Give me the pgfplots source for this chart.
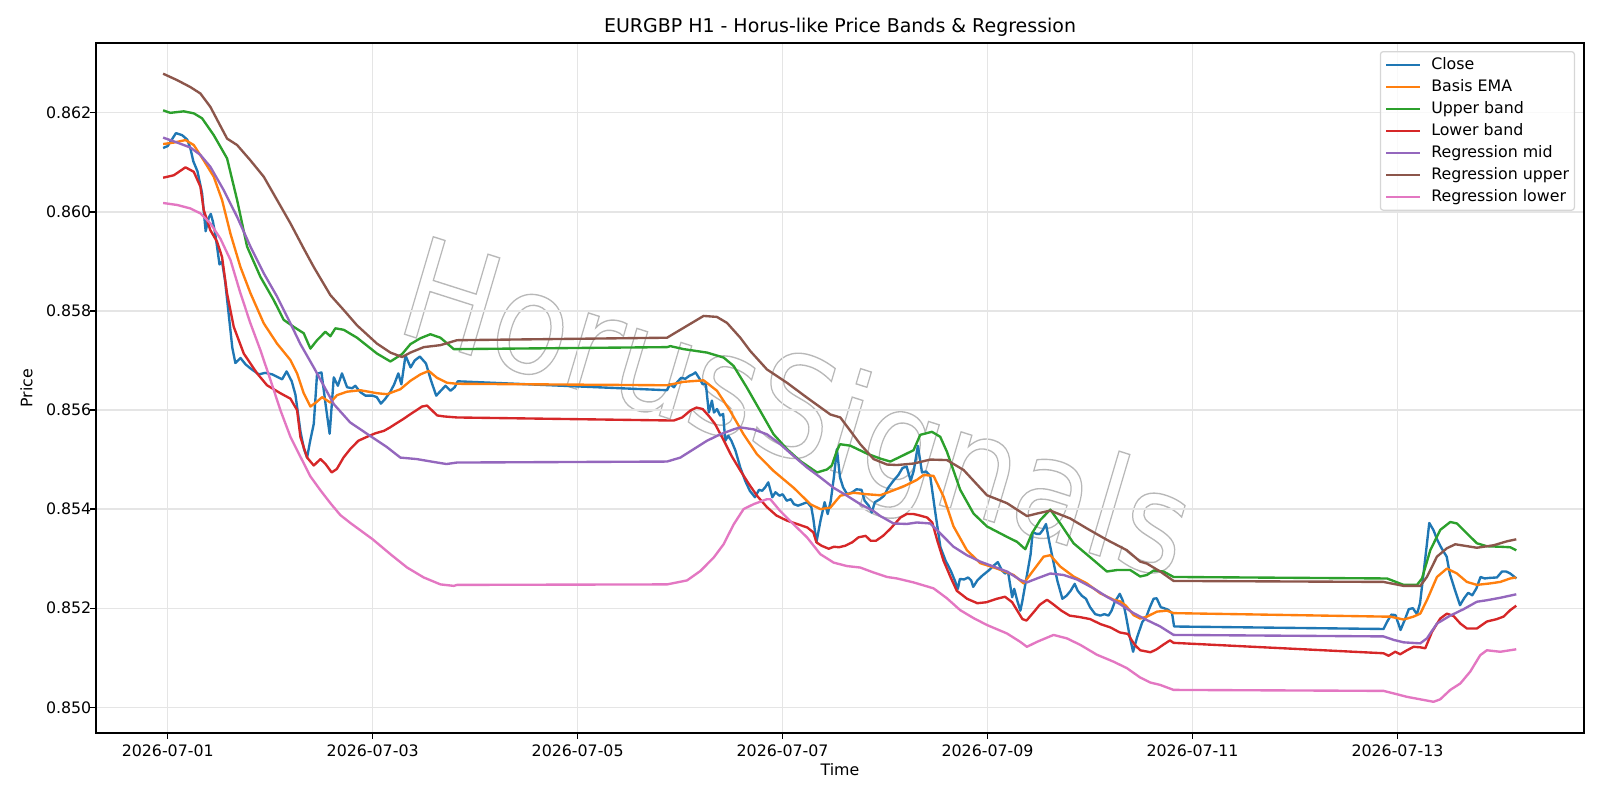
\documentclass[border=0pt]{standalone}
\usepackage{fontspec}
\setmainfont{DejaVu Sans}
\newfontfamily\wmfont{DejaVu Sans}
\usepackage{pgfplots}
\pgfplotsset{compat=1.18}

\definecolor{c0}{HTML}{1F77B4}
\definecolor{c1}{HTML}{FF7F0E}
\definecolor{c2}{HTML}{2CA02C}
\definecolor{c3}{HTML}{D62728}
\definecolor{c4}{HTML}{9467BD}
\definecolor{c5}{HTML}{8C564B}
\definecolor{c6}{HTML}{E377C2}
\definecolor{gridc}{HTML}{E5E5E5}
\definecolor{legframe}{HTML}{D6D6D6}

% x values: days after 2026-07-01 00:00 (hourly bars, weekend gaps)
\pgfplotstableread[row sep=\\]{
x y\\
-0.045 0.86129\\ 0.0 0.86133\\ 0.08 0.86159\\ 0.14 0.86155\\ 0.19 0.86146\\ 0.22 0.86129\\
0.25 0.86102\\ 0.29 0.86082\\ 0.335 0.86038\\ 0.37 0.85961\\ 0.40 0.85988\\ 0.42 0.85996\\
0.44 0.85981\\ 0.465 0.85954\\ 0.505 0.85894\\ 0.53 0.85900\\ 0.56 0.85860\\ 0.595 0.85793\\
0.63 0.85726\\ 0.66 0.85695\\ 0.71 0.85705\\ 0.76 0.85692\\ 0.82 0.85682\\ 0.89 0.85672\\
0.95 0.85675\\ 1.02 0.85672\\ 1.116 0.85662\\ 1.16 0.85678\\ 1.21 0.85658\\ 1.246 0.85631\\
1.295 0.85557\\ 1.33 0.85521\\ 1.36 0.85504\\ 1.39 0.85538\\ 1.425 0.85572\\ 1.457 0.85673\\
1.50 0.85676\\ 1.54 0.85612\\ 1.58 0.85552\\ 1.62 0.85666\\ 1.66 0.85649\\ 1.70 0.85674\\
1.75 0.85646\\ 1.80 0.85644\\ 1.83 0.85649\\ 1.88 0.85636\\ 1.93 0.85629\\ 2.0 0.85629\\
2.04 0.85626\\ 2.08 0.85613\\ 2.12 0.85622\\ 2.17 0.85636\\ 2.21 0.85652\\ 2.25 0.85674\\
2.28 0.85652\\ 2.32 0.85710\\ 2.37 0.85686\\ 2.41 0.85700\\ 2.46 0.85708\\ 2.52 0.85694\\
2.57 0.85659\\ 2.62 0.85629\\ 2.66 0.85638\\ 2.71 0.85649\\ 2.76 0.85639\\ 2.80 0.85646\\
2.83 0.85658\\
4.872 0.85640\\ 4.90 0.85652\\ 4.94 0.85646\\ 4.97 0.85656\\ 5.01 0.85665\\ 5.05 0.85663\\
5.09 0.85669\\ 5.13 0.85673\\ 5.15 0.85676\\ 5.19 0.85663\\ 5.22 0.85652\\ 5.25 0.85654\\
5.28 0.85595\\ 5.31 0.85619\\ 5.33 0.85595\\ 5.36 0.85602\\ 5.39 0.85589\\ 5.42 0.85592\\
5.44 0.85538\\ 5.47 0.85548\\ 5.50 0.85538\\ 5.54 0.85518\\ 5.587 0.85484\\ 5.635 0.85457\\
5.68 0.85437\\ 5.73 0.85424\\ 5.77 0.85439\\ 5.80 0.85437\\ 5.83 0.85444\\ 5.86 0.85454\\
5.90 0.85424\\ 5.93 0.85434\\ 5.97 0.85427\\ 6.0 0.85430\\ 6.04 0.85417\\ 6.08 0.85420\\
6.11 0.85410\\ 6.15 0.85407\\ 6.19 0.85410\\ 6.24 0.85414\\ 6.28 0.85404\\ 6.30 0.85380\\
6.33 0.85333\\ 6.37 0.85377\\ 6.41 0.85414\\ 6.44 0.85390\\ 6.47 0.85417\\ 6.50 0.85464\\
6.53 0.85521\\ 6.56 0.85464\\ 6.59 0.85444\\ 6.63 0.85430\\ 6.68 0.85434\\ 6.72 0.85440\\
6.77 0.85439\\ 6.80 0.85417\\ 6.84 0.85407\\ 6.87 0.85393\\ 6.90 0.85414\\ 6.95 0.85420\\
6.99 0.85427\\ 7.03 0.85443\\ 7.08 0.85457\\ 7.13 0.85469\\ 7.17 0.85483\\ 7.21 0.85486\\
7.25 0.85457\\ 7.28 0.85478\\ 7.32 0.85528\\ 7.36 0.85474\\ 7.40 0.85476\\ 7.44 0.85467\\
7.49 0.85393\\ 7.54 0.85323\\ 7.59 0.85296\\ 7.64 0.85276\\ 7.68 0.85256\\ 7.71 0.85239\\
7.73 0.85259\\ 7.77 0.85258\\ 7.81 0.85262\\ 7.84 0.85256\\ 7.86 0.85243\\ 7.90 0.85256\\
7.95 0.85266\\ 8.01 0.85276\\ 8.06 0.85286\\ 8.10 0.85293\\ 8.14 0.85276\\ 8.17 0.85270\\
8.20 0.85273\\ 8.24 0.85222\\ 8.26 0.85239\\ 8.29 0.85215\\ 8.32 0.85195\\ 8.34 0.85215\\
8.38 0.85262\\ 8.42 0.85309\\ 8.44 0.85353\\ 8.48 0.85350\\ 8.51 0.85350\\ 8.54 0.85358\\
8.57 0.85370\\ 8.60 0.85336\\ 8.64 0.85296\\ 8.68 0.85256\\ 8.73 0.85219\\ 8.77 0.85225\\
8.81 0.85235\\ 8.85 0.85249\\ 8.88 0.85235\\ 8.92 0.85225\\ 8.96 0.85219\\ 9.0 0.85202\\
9.05 0.85188\\ 9.10 0.85185\\ 9.14 0.85188\\ 9.18 0.85185\\ 9.21 0.85195\\ 9.24 0.85212\\
9.29 0.85229\\ 9.32 0.85215\\ 9.35 0.85185\\ 9.39 0.85140\\ 9.42 0.85112\\ 9.46 0.85142\\
9.51 0.85172\\ 9.55 0.85183\\ 9.58 0.85200\\ 9.62 0.85219\\ 9.65 0.85220\\ 9.69 0.85202\\
9.72 0.85200\\ 9.76 0.85197\\ 9.80 0.85190\\ 9.82 0.85163\\
11.864 0.85158\\ 11.90 0.85173\\ 11.94 0.85187\\ 11.98 0.85186\\ 12.03 0.85156\\ 12.07 0.85176\\
12.11 0.85198\\ 12.15 0.85200\\ 12.19 0.85188\\ 12.22 0.85210\\ 12.25 0.85263\\ 12.28 0.85317\\
12.31 0.85372\\ 12.35 0.85358\\ 12.39 0.85337\\ 12.43 0.85321\\ 12.48 0.85304\\ 12.51 0.85270\\
12.56 0.85237\\ 12.61 0.85206\\ 12.65 0.85220\\ 12.69 0.85231\\ 12.73 0.85226\\ 12.77 0.85240\\
12.81 0.85263\\ 12.85 0.85260\\ 12.89 0.85261\\ 12.97 0.85262\\ 13.02 0.85274\\ 13.06 0.85274\\
13.10 0.85270\\ 13.13 0.85265\\ 13.16 0.85260\\
}\closetab

\pgfplotstableread[row sep=\\]{
x y\\
-0.045 0.86137\\ 0.06 0.86140\\ 0.173 0.86145\\ 0.254 0.86135\\ 0.351 0.86104\\ 0.449 0.86071\\
0.53 0.86024\\ 0.612 0.85956\\ 0.709 0.85889\\ 0.807 0.85836\\ 0.937 0.85775\\ 1.067 0.85734\\
1.197 0.85701\\ 1.262 0.85674\\ 1.327 0.85634\\ 1.392 0.85607\\ 1.457 0.85617\\ 1.506 0.85626\\
1.587 0.85615\\ 1.652 0.85630\\ 1.749 0.85637\\ 1.879 0.85640\\ 2.042 0.85634\\ 2.14 0.85632\\
2.27 0.85642\\ 2.368 0.85659\\ 2.466 0.85672\\ 2.547 0.85679\\ 2.628 0.85665\\ 2.726 0.85655\\
2.823 0.85653\\ 4.872 0.85650\\ 5.034 0.85657\\ 5.229 0.85660\\ 5.359 0.85639\\ 5.489 0.85598\\
5.619 0.85551\\ 5.749 0.85511\\ 5.912 0.85477\\ 6.108 0.85443\\ 6.271 0.85410\\ 6.368 0.85400\\
6.466 0.85403\\ 6.563 0.85427\\ 6.693 0.85433\\ 6.823 0.85430\\ 6.953 0.85428\\ 7.083 0.85438\\
7.213 0.85449\\ 7.31 0.85459\\ 7.376 0.85469\\ 7.473 0.85467\\ 7.571 0.85425\\ 7.668 0.85365\\
7.798 0.85317\\ 7.928 0.85291\\ 8.091 0.85280\\ 8.254 0.85267\\ 8.352 0.85250\\ 8.449 0.85277\\
8.547 0.85304\\ 8.612 0.85307\\ 8.709 0.85284\\ 8.839 0.85264\\ 8.969 0.85250\\ 9.099 0.85230\\
9.229 0.85217\\ 9.29 0.85214\\ 9.35 0.85205\\ 9.425 0.85186\\ 9.49 0.85179\\ 9.555 0.85183\\
9.652 0.85193\\ 9.75 0.85195\\ 9.815 0.85190\\ 11.863 0.85183\\ 11.929 0.85183\\ 12.06 0.85177\\
12.157 0.85183\\ 12.222 0.85189\\ 12.287 0.85216\\ 12.385 0.85263\\ 12.482 0.85280\\ 12.580 0.85270\\
12.677 0.85253\\ 12.775 0.85247\\ 12.905 0.85250\\ 13.003 0.85253\\ 13.1 0.85260\\ 13.159 0.85262\\
}\ematab

\pgfplotstableread[row sep=\\]{
x y\\
-0.045 0.86205\\ 0.026 0.86200\\ 0.156 0.86203\\ 0.254 0.86199\\ 0.335 0.86189\\ 0.449 0.86155\\
0.579 0.86108\\ 0.677 0.86024\\ 0.774 0.85930\\ 0.904 0.85869\\ 1.034 0.85822\\ 1.132 0.85782\\
1.229 0.85768\\ 1.327 0.85755\\ 1.392 0.85724\\ 1.457 0.85741\\ 1.538 0.85758\\ 1.587 0.85749\\
1.636 0.85765\\ 1.717 0.85762\\ 1.847 0.85746\\ 2.042 0.85714\\ 2.173 0.85698\\ 2.287 0.85713\\
2.368 0.85733\\ 2.466 0.85745\\ 2.563 0.85753\\ 2.661 0.85746\\ 2.791 0.85723\\ 2.823 0.85723\\
4.872 0.85727\\ 4.905 0.85729\\ 5.034 0.85723\\ 5.262 0.85716\\ 5.424 0.85706\\ 5.522 0.85689\\
5.652 0.85645\\ 5.782 0.85598\\ 5.912 0.85551\\ 6.043 0.85521\\ 6.173 0.85497\\ 6.336 0.85474\\
6.433 0.85480\\ 6.48 0.85488\\ 6.53 0.85518\\ 6.56 0.85531\\ 6.661 0.85528\\ 6.823 0.85512\\
6.953 0.85502\\ 7.051 0.85496\\ 7.181 0.85509\\ 7.278 0.85519\\ 7.343 0.85550\\ 7.457 0.85556\\
7.538 0.85546\\ 7.603 0.85516\\ 7.733 0.85439\\ 7.863 0.85391\\ 7.994 0.85365\\ 8.189 0.85344\\
8.287 0.85334\\ 8.368 0.85319\\ 8.433 0.85351\\ 8.514 0.85378\\ 8.612 0.85399\\ 8.709 0.85371\\
8.839 0.85331\\ 9.034 0.85297\\ 9.164 0.85274\\ 9.262 0.85277\\ 9.392 0.85277\\ 9.489 0.85264\\
9.555 0.85267\\ 9.620 0.85276\\ 9.717 0.85274\\ 9.815 0.85263\\ 11.863 0.85260\\ 11.897 0.85260\\
12.06 0.85247\\ 12.19 0.85247\\ 12.239 0.85260\\ 12.32 0.85317\\ 12.417 0.85358\\ 12.515 0.85374\\
12.580 0.85371\\ 12.677 0.85351\\ 12.775 0.85331\\ 12.872 0.85325\\ 13.003 0.85324\\ 13.1 0.85323\\
13.159 0.85317\\
}\uppertab

\pgfplotstableread[row sep=\\]{
x y\\
-0.045 0.86069\\ 0.06 0.86074\\ 0.173 0.86090\\ 0.254 0.86081\\ 0.319 0.86051\\ 0.351 0.86004\\
0.416 0.85963\\ 0.481 0.85940\\ 0.53 0.85909\\ 0.579 0.85835\\ 0.644 0.85768\\ 0.742 0.85714\\
0.872 0.85674\\ 0.969 0.85650\\ 1.099 0.85634\\ 1.197 0.85623\\ 1.262 0.85600\\ 1.295 0.85545\\
1.36 0.85504\\ 1.425 0.85488\\ 1.49 0.85501\\ 1.54 0.85491\\ 1.60 0.85474\\ 1.65 0.85481\\
1.715 0.85504\\ 1.78 0.85521\\ 1.86 0.85538\\ 1.945 0.85546\\ 2.025 0.85553\\ 2.11 0.85558\\
2.17 0.85565\\ 2.23 0.85573\\ 2.30 0.85582\\ 2.37 0.85592\\ 2.43 0.85600\\ 2.48 0.85607\\
2.53 0.85609\\ 2.58 0.85599\\ 2.63 0.85589\\ 2.70 0.85587\\ 2.823 0.85585\\
4.872 0.85579\\ 4.94 0.85579\\ 5.02 0.85585\\ 5.10 0.85599\\ 5.16 0.85605\\ 5.22 0.85602\\
5.28 0.85588\\ 5.34 0.85572\\ 5.42 0.85541\\ 5.50 0.85508\\ 5.587 0.85478\\ 5.67 0.85451\\
5.75 0.85427\\ 5.847 0.85404\\ 5.94 0.85387\\ 6.04 0.85377\\ 6.14 0.85370\\ 6.24 0.85363\\
6.30 0.85353\\ 6.33 0.85333\\ 6.38 0.85326\\ 6.45 0.85320\\ 6.50 0.85324\\ 6.55 0.85323\\
6.61 0.85326\\ 6.68 0.85333\\ 6.74 0.85343\\ 6.81 0.85346\\ 6.86 0.85336\\ 6.91 0.85336\\
6.98 0.85346\\ 7.05 0.85360\\ 7.15 0.85383\\ 7.21 0.85390\\ 7.28 0.85390\\ 7.34 0.85387\\
7.41 0.85383\\ 7.46 0.85373\\ 7.51 0.85336\\ 7.57 0.85296\\ 7.64 0.85262\\ 7.70 0.85235\\
7.80 0.85219\\ 7.90 0.85210\\ 7.99 0.85212\\ 8.09 0.85219\\ 8.17 0.85223\\ 8.24 0.85212\\
8.29 0.85195\\ 8.34 0.85178\\ 8.38 0.85175\\ 8.45 0.85192\\ 8.51 0.85207\\ 8.58 0.85217\\
8.64 0.85208\\ 8.72 0.85195\\ 8.80 0.85185\\ 8.90 0.85182\\ 9.0 0.85178\\ 9.10 0.85168\\
9.20 0.85161\\ 9.29 0.85151\\ 9.37 0.85148\\ 9.41 0.85134\\ 9.44 0.85125\\ 9.49 0.85115\\
9.59 0.85111\\ 9.65 0.85117\\ 9.72 0.85127\\ 9.78 0.85135\\ 9.815 0.85130\\
11.864 0.85109\\ 11.913 0.85104\\ 11.978 0.85112\\ 12.027 0.85107\\ 12.092 0.85115\\ 12.157 0.85122\\
12.222 0.85121\\ 12.271 0.85119\\ 12.336 0.85152\\ 12.417 0.85179\\ 12.482 0.85189\\ 12.548 0.85184\\
12.613 0.85169\\ 12.677 0.85159\\ 12.775 0.85159\\ 12.872 0.85173\\ 12.970 0.85178\\ 13.035 0.85183\\
13.1 0.85196\\ 13.159 0.85205\\
}\lowertab

\pgfplotstableread[row sep=\\]{
x y\\
-0.045 0.86150\\ 0.092 0.86140\\ 0.221 0.86130\\ 0.319 0.86115\\ 0.416 0.86091\\ 0.546 0.86044\\
0.677 0.85990\\ 0.807 0.85930\\ 0.937 0.85876\\ 1.067 0.85829\\ 1.197 0.85775\\ 1.295 0.85733\\
1.425 0.85686\\ 1.62 0.85612\\ 1.78 0.85575\\ 1.945 0.85552\\ 2.14 0.85525\\ 2.27 0.85504\\
2.43 0.85501\\ 2.60 0.85495\\ 2.72 0.85491\\ 2.823 0.85494\\
4.872 0.85496\\ 5.002 0.85504\\ 5.132 0.85521\\ 5.262 0.85538\\ 5.392 0.85551\\ 5.522 0.85561\\
5.587 0.85565\\ 5.717 0.85561\\ 5.847 0.85551\\ 5.977 0.85531\\ 6.108 0.85507\\ 6.238 0.85484\\
6.368 0.85464\\ 6.498 0.85443\\ 6.628 0.85427\\ 6.758 0.85410\\ 6.888 0.85396\\ 6.953 0.85386\\
7.083 0.85371\\ 7.213 0.85370\\ 7.31 0.85373\\ 7.441 0.85371\\ 7.538 0.85351\\ 7.668 0.85324\\
7.798 0.85307\\ 7.928 0.85294\\ 8.059 0.85284\\ 8.189 0.85274\\ 8.319 0.85257\\ 8.384 0.85252\\
8.482 0.85260\\ 8.612 0.85270\\ 8.742 0.85267\\ 8.872 0.85258\\ 9.034 0.85240\\ 9.164 0.85223\\
9.294 0.85208\\ 9.424 0.85190\\ 9.555 0.85176\\ 9.685 0.85163\\ 9.815 0.85146\\
11.863 0.85143\\ 11.962 0.85136\\ 12.06 0.85131\\ 12.222 0.85129\\ 12.287 0.85139\\ 12.385 0.85169\\
12.515 0.85185\\ 12.645 0.85198\\ 12.775 0.85213\\ 12.872 0.85216\\ 13.003 0.85221\\ 13.159 0.85228\\
}\regmidtab

\pgfplotstableread[row sep=\\]{
x y\\
-0.045 0.86279\\ 0.092 0.86266\\ 0.221 0.86252\\ 0.319 0.86239\\ 0.416 0.86212\\ 0.579 0.86148\\
0.677 0.86135\\ 0.807 0.86104\\ 0.937 0.86071\\ 1.067 0.86024\\ 1.197 0.85977\\ 1.327 0.85926\\
1.424 0.85889\\ 1.587 0.85832\\ 1.717 0.85802\\ 1.847 0.85771\\ 2.042 0.85734\\ 2.173 0.85716\\
2.287 0.85707\\ 2.368 0.85716\\ 2.498 0.85727\\ 2.661 0.85731\\ 2.823 0.85741\\
4.872 0.85746\\ 5.034 0.85766\\ 5.229 0.85790\\ 5.359 0.85788\\ 5.457 0.85776\\ 5.587 0.85746\\
5.685 0.85719\\ 5.847 0.85682\\ 6.043 0.85655\\ 6.238 0.85625\\ 6.466 0.85591\\ 6.563 0.85585\\
6.661 0.85558\\ 6.758 0.85531\\ 6.888 0.85501\\ 7.018 0.85490\\ 7.116 0.85489\\ 7.278 0.85492\\
7.441 0.85500\\ 7.603 0.85499\\ 7.766 0.85479\\ 7.994 0.85428\\ 8.189 0.85412\\ 8.384 0.85386\\
8.482 0.85391\\ 8.612 0.85397\\ 8.807 0.85381\\ 8.969 0.85361\\ 9.164 0.85338\\ 9.359 0.85317\\
9.489 0.85294\\ 9.555 0.85290\\ 9.685 0.85274\\ 9.815 0.85255\\
11.863 0.85253\\ 12.06 0.85245\\ 12.222 0.85245\\ 12.287 0.85263\\ 12.385 0.85304\\ 12.482 0.85321\\
12.564 0.85329\\ 12.775 0.85322\\ 12.938 0.85327\\ 13.068 0.85335\\ 13.159 0.85339\\
}\regupptab

\pgfplotstableread[row sep=\\]{
x y\\
-0.045 0.86018\\ 0.092 0.86014\\ 0.221 0.86007\\ 0.319 0.85997\\ 0.416 0.85977\\ 0.514 0.85946\\
0.612 0.85903\\ 0.709 0.85836\\ 0.807 0.85775\\ 0.904 0.85721\\ 1.002 0.85661\\ 1.099 0.85600\\
1.197 0.85546\\ 1.294 0.85506\\ 1.392 0.85466\\ 1.49 0.85438\\ 1.587 0.85412\\ 1.684 0.85388\\
1.782 0.85372\\ 2.0 0.85339\\ 2.173 0.85309\\ 2.336 0.85282\\ 2.498 0.85262\\ 2.661 0.85248\\
2.791 0.85245\\ 2.823 0.85247\\
4.872 0.85248\\ 4.97 0.85252\\ 5.067 0.85256\\ 5.197 0.85275\\ 5.327 0.85302\\ 5.424 0.85329\\
5.522 0.85369\\ 5.619 0.85400\\ 5.717 0.85410\\ 5.847 0.85420\\ 5.88 0.85420\\ 5.977 0.85396\\
6.108 0.85369\\ 6.238 0.85343\\ 6.368 0.85309\\ 6.498 0.85292\\ 6.628 0.85285\\ 6.758 0.85282\\
6.888 0.85272\\ 7.018 0.85263\\ 7.116 0.85260\\ 7.278 0.85252\\ 7.473 0.85240\\ 7.603 0.85220\\
7.733 0.85196\\ 7.863 0.85180\\ 7.994 0.85166\\ 8.189 0.85149\\ 8.319 0.85132\\ 8.384 0.85122\\
8.482 0.85132\\ 8.644 0.85146\\ 8.774 0.85139\\ 8.904 0.85126\\ 9.067 0.85106\\ 9.229 0.85092\\
9.359 0.85079\\ 9.489 0.85060\\ 9.587 0.85050\\ 9.685 0.85045\\ 9.815 0.85035\\
11.863 0.85033\\ 11.962 0.85028\\ 12.092 0.85021\\ 12.222 0.85016\\ 12.352 0.85011\\ 12.417 0.85016\\
12.515 0.85035\\ 12.613 0.85048\\ 12.710 0.85072\\ 12.807 0.85105\\ 12.872 0.85115\\ 13.003 0.85112\\
13.159 0.85117\\
}\reglowtab

\begin{document}
\begin{tikzpicture}
\useasboundingbox (0,0) rectangle (16in,8in);
% watermark behind the axes: outlined, condensed and sheared letters
\node[cm={0.94,-0.30,0.31,1.05,(0,0)}, anchor=base, text=black!28, inner sep=0pt]
  at (7.83in,3.45in)
  {\special{pdf:literal direct 1 Tr 0.9 w}\wmfont\fontsize{92}{92}\selectfont HorusSignals\special{pdf:literal direct 0 Tr}};
\begin{axis}[
  at={(0.96in,0.67in)}, anchor=south west,
  width=14.88in, height=6.90in, scale only axis,
  xmin=-0.70, xmax=13.82, ymin=0.84948, ymax=0.86341,
  xtick={0,2,4,6,8,10,12},
  xticklabels={2026-07-01,2026-07-03,2026-07-05,2026-07-07,2026-07-09,2026-07-11,2026-07-13},
  ytick={0.850,0.852,0.854,0.856,0.858,0.860,0.862},
  yticklabels={0.850,0.852,0.854,0.856,0.858,0.860,0.862},
  xtick pos=left, ytick pos=left,
  grid=major,
  major grid style={draw=gridc, line width=0.91pt},
  tick align=outside,
  major tick length=4pt,
  tick style={black, line width=0.91pt},
  axis line style={line width=0.91pt},
  tick label style={font=\fontsize{11.43}{13.7}\selectfont, inner sep=0pt},
  xticklabel style={anchor=north, yshift=-4.6pt},
  yticklabel style={anchor=east, xshift=0.8pt},
  every axis x label/.style={at={(axis description cs:0.5,-0.0536)}, anchor=center,
    font=\fontsize{11.43}{13.7}\selectfont},
  every axis y label/.style={at={(axis description cs:-0.0467,0.5)}, anchor=center,
    rotate=90, font=\fontsize{11.43}{13.7}\selectfont},
  xlabel={Time}, ylabel={Price},
  title={EURGBP H1 - Horus-like Price Bands \& Regression},
  title style={at={(axis description cs:0.5,1.0106)}, anchor=center, yshift=0pt,
    font=\fontsize{13.71}{16}\selectfont},
  legend style={at={(axis description cs:1,1)}, anchor=north east,
    xshift=-6.5pt, yshift=-5.8pt, draw=legframe, line width=0.91pt,
    rounded corners=2pt, fill=white, fill opacity=0.8, text opacity=1,
    font=\fontsize{11.43}{13.7}\selectfont, inner xsep=3.8pt, inner ysep=3.9pt,
    row sep=4.5pt, column sep=8.3pt,
    nodes={inner sep=0pt, text height=8.7pt, text depth=2.7pt}},
  legend cell align=left,
  legend image code/.code={\draw[#1, line cap=rect] (0pt,0pt) -- (22.9pt,0pt);},
  every axis plot/.append style={line width=1.71pt, line join=round},
]
\addplot[c0] table {\closetab};
\addlegendentry{Close}
\addplot[c1] table {\ematab};
\addlegendentry{Basis EMA}
\addplot[c2] table {\uppertab};
\addlegendentry{Upper band}
\addplot[c3] table {\lowertab};
\addlegendentry{Lower band}
\addplot[c4] table {\regmidtab};
\addlegendentry{Regression mid}
\addplot[c5] table {\regupptab};
\addlegendentry{Regression upper}
\addplot[c6] table {\reglowtab};
\addlegendentry{Regression lower}
\end{axis}
\end{tikzpicture}
\end{document}
